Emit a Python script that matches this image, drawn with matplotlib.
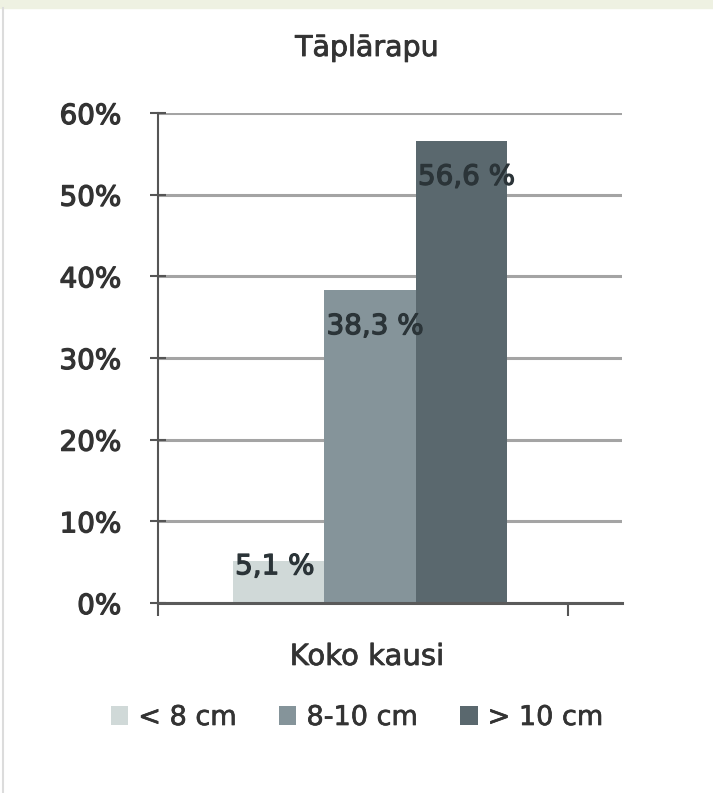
import matplotlib.pyplot as plt
import matplotlib.patheffects as pe
from matplotlib.patches import Rectangle
from matplotlib.lines import Line2D

title = "Tāplārapu"
category = "Koko kausi"
series = ["< 8 cm", "8-10 cm", "> 10 cm"]
values = [5.1, 38.3, 56.6]
value_labels = ["5,1 %", "38,3 %", "56,6 %"]
colors = ["#d0d9d8", "#85949a", "#5a686e"]
yticks = [0, 10, 20, 30, 40, 50, 60]

plt.rcParams['font.family'] = ['DejaVu Sans']

fig = plt.figure(figsize=(7.13, 7.93), dpi=100)
W, H = 713, 793


def thick(col, lw=0.7):
    # a thin stroke makes the text look semibold, like the scanned original
    return [pe.withStroke(linewidth=lw, foreground=col)]


# screenshot frame: greenish strip on top, grey line on the left
fig.patches.append(Rectangle((0, 1 - 8 / H), 1, 8 / H, transform=fig.transFigure,
                             color="#eef1e2", zorder=0))
fig.lines.append(Line2D([3 / W, 3 / W], [0, 1 - 8 / H], transform=fig.transFigure,
                        color="#dcdcdc", lw=1.5))

ax = fig.add_axes([158 / W, 1 - 603 / H, (622 - 158) / W, (603 - 113) / H])

# category spans 0..1 on x (158px..568px)
bar_w = 0.223
x0 = 0.183
for i, (v, c, lab) in enumerate(zip(values, colors, value_labels)):
    left = x0 + i * bar_w
    ax.bar(left, v, width=bar_w, align="edge", color=c, zorder=2, label=series[i])
    # label sits inside the top of the bar, but not below the bar's middle
    ly = max(v - 4.4, 4.5)
    ax.annotate(lab, (left, ly), xytext=(1.5, 0), textcoords="offset points",
                ha="left", va="center", fontsize=20,
                color="#2b3438", zorder=3, path_effects=thick("#2b3438", 0.9))

ax.set_xlim(0, (622 - 158) / 410)
ax.set_ylim(0, 60)
ax.set_yticks(yticks)
ax.set_yticklabels([f"{t}%" for t in yticks], fontsize=20, color="#333333")
for t in ax.get_yticklabels():
    t.set_path_effects(thick("#333333", 0.9))
ax.yaxis.grid(True, color="#a4a4a4", lw=2.2, zorder=1)
ax.tick_params(axis="y", length=11, width=1.5, color="#555555", pad=21, direction="inout")
ax.set_xticks([0, 1])
ax.set_xticklabels(["", ""])
ax.tick_params(axis="x", length=9, width=1.5, color="#555555", direction="out")

for s in ["top", "right"]:
    ax.spines[s].set_visible(False)
ax.spines["left"].set_color("#555555")
ax.spines["left"].set_linewidth(1.5)
ax.spines["bottom"].set_color("#5a5a5a")
ax.spines["bottom"].set_linewidth(2.2)

fig.text(367 / W, 1 - 48 / H, title, ha="center", va="center", fontsize=20.5,
         color="#333333", path_effects=thick("#333333", 0.6))
fig.text(367 / W, 1 - 657 / H, category, ha="center", va="center", fontsize=21,
         color="#333333", path_effects=thick("#333333", 0.5))

leg = ax.legend(loc="center", bbox_to_anchor=(357 / W, 1 - 718 / H),
                bbox_transform=fig.transFigure, ncol=3, frameon=False,
                fontsize=19.5, handlelength=0.65, handleheight=0.75,
                handletextpad=0.37, columnspacing=1.55, borderpad=0)
for t in leg.get_texts():
    t.set_color("#333333")
    t.set_path_effects(thick("#333333", 0.5))

fig.savefig("out.png", dpi=100)
